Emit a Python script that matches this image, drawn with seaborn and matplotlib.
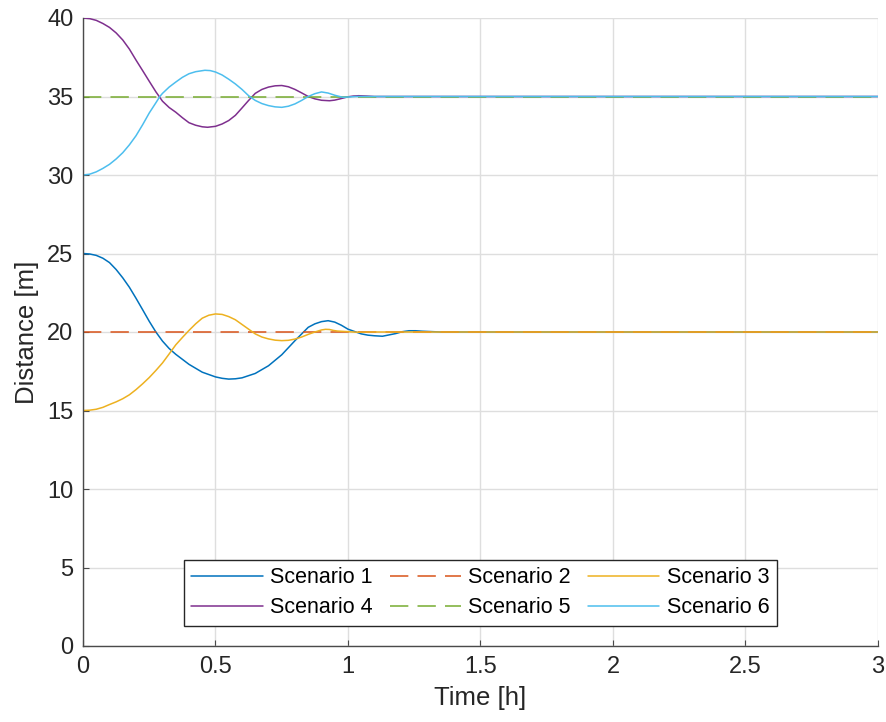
import matplotlib
matplotlib.use("Agg")
import matplotlib.pyplot as plt
import seaborn as sns
import pandas as pd

# ---- data ----
t1 = [0, 0.025, 0.05, 0.075, 0.10, 0.125, 0.15, 0.175, 0.20, 0.225,
      0.25, 0.275, 0.30, 0.325, 0.35, 0.40, 0.45, 0.50, 0.525, 0.55,
      0.575, 0.60, 0.65, 0.70, 0.75, 0.80, 0.85, 0.875, 0.90, 0.925,
      0.95, 0.975, 1.00, 1.05, 1.075, 1.10, 1.13, 1.18, 1.205, 1.23,
      1.255, 1.28, 1.35, 3.0]
s1 = [25.0, 24.97, 24.88, 24.7, 24.42, 23.98, 23.45, 22.85, 22.15, 21.42,
      20.68, 20.0, 19.42, 18.95, 18.58, 17.94, 17.44, 17.14, 17.05, 17.0,
      17.02, 17.08, 17.36, 17.85, 18.55, 19.45, 20.3, 20.52, 20.66, 20.72,
      20.63, 20.43, 20.18, 19.88, 19.8, 19.76, 19.73, 19.9, 20.02, 20.08,
      20.08, 20.05, 20.0, 20.0]

t2 = [0, 3.0]
s2 = [20.0, 20.0]

t3 = [0, 0.025, 0.05, 0.075, 0.10, 0.125, 0.15, 0.175, 0.20, 0.225,
      0.25, 0.275, 0.30, 0.325, 0.35, 0.375, 0.40, 0.425, 0.45, 0.475,
      0.50, 0.525, 0.55, 0.575, 0.60, 0.625, 0.65, 0.675, 0.70, 0.725,
      0.75, 0.775, 0.80, 0.825, 0.85, 0.875, 0.90, 0.915, 0.93, 0.945,
      0.96, 1.03, 1.10, 3.0]
s3 = [15.0, 15.02, 15.08, 15.2, 15.38, 15.55, 15.75, 16.0, 16.33, 16.7,
      17.1, 17.55, 18.03, 18.6, 19.18, 19.65, 20.1, 20.52, 20.88, 21.07,
      21.15, 21.12, 20.98, 20.78, 20.48, 20.18, 19.88, 19.68, 19.56, 19.48,
      19.45, 19.47, 19.55, 19.68, 19.85, 20.0, 20.13, 20.17, 20.16, 20.1,
      20.06, 19.99, 20.0, 20.0]

t4 = [0, 0.025, 0.05, 0.075, 0.10, 0.125, 0.15, 0.175, 0.20, 0.225,
      0.25, 0.275, 0.30, 0.325, 0.35, 0.375, 0.40, 0.425, 0.45, 0.47,
      0.50, 0.525, 0.55, 0.575, 0.60, 0.625, 0.65, 0.675, 0.70, 0.725,
      0.75, 0.775, 0.80, 0.825, 0.85, 0.875, 0.90, 0.93, 0.95, 0.97,
      1.00, 1.02, 1.04, 1.07, 1.10, 3.0]
s4 = [40.0, 39.96, 39.85, 39.65, 39.4, 39.05, 38.6, 38.02, 37.32, 36.65,
      35.97, 35.3, 34.7, 34.3, 34.0, 33.65, 33.33, 33.17, 33.07, 33.04,
      33.1, 33.25, 33.47, 33.8, 34.27, 34.75, 35.2, 35.45, 35.6, 35.68,
      35.7, 35.62, 35.45, 35.23, 35.0, 34.85, 34.76, 34.73, 34.77, 34.85,
      34.98, 35.03, 35.05, 35.03, 35.0, 35.0]

t5 = [0, 3.0]
s5 = [35.0, 35.0]

t6 = [0, 0.025, 0.05, 0.075, 0.10, 0.125, 0.15, 0.175, 0.20, 0.225,
      0.25, 0.275, 0.29, 0.30, 0.325, 0.35, 0.375, 0.40, 0.425, 0.46,
      0.48, 0.50, 0.525, 0.55, 0.575, 0.60, 0.625, 0.65, 0.675, 0.70,
      0.725, 0.75, 0.775, 0.80, 0.825, 0.85, 0.875, 0.90, 0.925, 0.95,
      0.98, 1.005, 1.03, 3.0]
s6 = [30.0, 30.05, 30.2, 30.42, 30.68, 31.02, 31.42, 31.92, 32.5, 33.2,
      33.95, 34.6, 35.0, 35.2, 35.6, 35.92, 36.22, 36.45, 36.58, 36.67,
      36.65, 36.56, 36.37, 36.1, 35.8, 35.45, 35.05, 34.75, 34.55, 34.42,
      34.34, 34.31, 34.38, 34.53, 34.75, 35.0, 35.18, 35.29, 35.22, 35.08,
      34.95, 34.97, 35.0, 35.0]

names = ["Scenario 1", "Scenario 2", "Scenario 3", "Scenario 4", "Scenario 5", "Scenario 6"]
times = [t1, t2, t3, t4, t5, t6]
values = [s1, s2, s3, s4, s5, s6]
colors = ["#0072BD", "#D95319", "#EDB120", "#7E2F8E", "#77AC30", "#4DBEEE"]
dashed = [False, True, False, False, True, False]

x_ticks = [0, 0.5, 1, 1.5, 2, 2.5, 3]
x_tick_labels = ["0", "0.5", "1", "1.5", "2", "2.5", "3"]
y_ticks = [0, 5, 10, 15, 20, 25, 30, 35, 40]

# ---- style ----
sns.set_theme(style="whitegrid")
plt.rcParams["font.family"] = ["Liberation Sans", "DejaVu Sans"]

fig = plt.figure(figsize=(8.87, 7.22), dpi=100)
ax = fig.add_axes([83 / 887, 1 - 646 / 722, (878 - 83) / 887, (646 - 18) / 722])

handles = {}
for name, tt, vv, c, d in zip(names, times, values, colors, dashed):
    df = pd.DataFrame({"t": tt, "v": vv})
    sns.lineplot(data=df, x="t", y="v", ax=ax, color=c, linewidth=1.1,
                 estimator=None, sort=True, label=name, legend=False)
    ln = ax.lines[-1]
    if d:
        ln.set_dashes([12, 6])
    handles[name] = ln

ax.set_xlim(0, 3)
ax.set_ylim(0, 40)
ax.set_xticks(x_ticks)
ax.set_xticklabels(x_tick_labels)
ax.set_yticks(y_ticks)
ax.set_yticklabels([str(v) for v in y_ticks])

ax.grid(True, color="#dedede", linewidth=1.0)
ax.set_facecolor("white")
for side in ["top", "right"]:
    ax.spines[side].set_visible(False)
for side in ["left", "bottom"]:
    ax.spines[side].set_visible(True)
    ax.spines[side].set_color("#4a4a4a")
    ax.spines[side].set_linewidth(1.0)

ax.tick_params(axis="both", direction="in", length=4, width=0.8, color="#4a4a4a",
               labelsize=17, labelcolor="#262626", pad=7,
               bottom=True, left=True, top=False, right=False)

ax.set_xlabel("Time [h]", fontsize=18.5, color="#262626", labelpad=6)
ax.set_ylabel("Distance [m]", fontsize=18.5, color="#262626", labelpad=6)

order = ["Scenario 1", "Scenario 4", "Scenario 2", "Scenario 5", "Scenario 3", "Scenario 6"]
leg = ax.legend([handles[n] for n in order], order, ncol=3, loc="lower center",
                bbox_to_anchor=(0.5, 0.032), borderaxespad=0, fontsize=15.5,
                handlelength=3.3, handletextpad=0.35, columnspacing=0.8,
                labelspacing=0.42, borderpad=0.35, frameon=True, fancybox=False,
                framealpha=1.0)
leg.get_frame().set_edgecolor("#262626")
leg.get_frame().set_linewidth(1.0)
for txt in leg.get_texts():
    txt.set_color("#000000")

fig.savefig("out.png", dpi=100, facecolor="white")
